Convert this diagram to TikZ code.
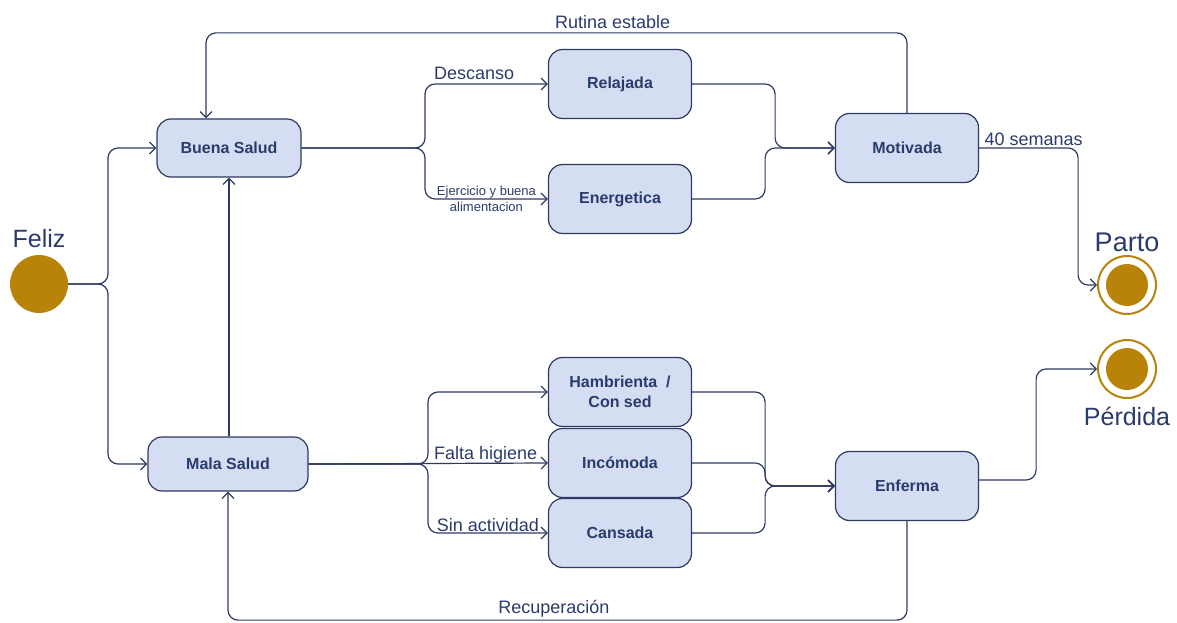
\documentclass[tikz,border=0pt]{standalone}
\usepackage{fontspec}
\setmainfont{Liberation Sans}
\usetikzlibrary{arrows.meta,positioning}
\definecolor{linea}{HTML}{2E3A62}
\definecolor{texto}{HTML}{2B3B6C}
\definecolor{relleno}{HTML}{D4DDF1}
\definecolor{oro}{HTML}{B98309}

\begin{document}
\begin{tikzpicture}[x=1pt,y=-1pt,
    % define styles
    estado/.style={
        draw=linea,
        fill=relleno,
        line width=1.2pt,
        rounded corners=14pt,
        minimum width=143pt,
        minimum height=69pt,
        align=center,
        text=texto,
        font=\fontsize{16}{20}\selectfont\bfseries
    },
    inicio/.style={
        circle,
        fill=oro,
        inner sep=0pt,
        minimum size=58pt
    },
    fin/.style={
        circle,
        draw=oro,
        fill=white,
        line width=2pt,
        inner sep=0pt,
        minimum size=58pt,
        path picture={\fill[oro] (path picture bounding box.center) circle (21pt);}
    },
    flecha/.style={
        draw=linea,
        line width=1.2pt,
        rounded corners=10pt,
        -{Straight Barb[length=6pt,width=12pt]}
    },
    etiqueta/.style={
        text=texto,
        inner sep=1pt,
        font=\fontsize{18}{21}\selectfont
    },
    grande/.style={
        text=texto,
        font=\fontsize{25}{28}\selectfont
    }
]
\useasboundingbox (0,0) rectangle (1177,623);

% Initial and final states
\node[inicio,label={[grande,label distance=4pt]above:Feliz}] (feliz) at (39,284) {};
\node[fin,label={[grande,font=\fontsize{27}{30}\selectfont]above:Parto}] (parto) at (1127,285) {};
\node[fin,label={[grande,label distance=5pt]below:Pérdida}] (perdida) at (1127,369) {};

% States
\node[estado,minimum width=144pt,minimum height=58pt] (buena) at (229,148) {Buena Salud};
\node[estado,minimum width=160pt,minimum height=54pt] (mala) at (228,464) {Mala Salud};
\node[estado] (relajada) at (620,84) {Relajada};
\node[estado] (energetica) at (620,199) {Energetica};
\node[estado] (motivada) at (907,148) {Motivada};
\node[estado] (hambrienta) at (620,392) {Hambrienta~~/\\Con sed};
\node[estado] (incomoda) at (620,463) {Incómoda};
\node[estado] (cansada) at (620,533) {Cansada};
\node[estado] (enferma) at (907,486) {Enferma};

% Branch points
\coordinate (rFeliz) at (108,284);
\coordinate (rBuena) at (425,148);
\coordinate (rMala) at (428,464);

% From Feliz
\draw[flecha] (feliz.east) -- (rFeliz) |- (buena.west);
\draw[flecha] (feliz.east) -- (rFeliz) |- (mala.west);
\draw[flecha] (buena.south |- mala.north) -- (buena.south);

% From Buena Salud
\draw[flecha] (buena.east) -- (rBuena) |- node[etiqueta,pos=0.7,above,yshift=3pt] {Descanso} (relajada.west);
\draw[flecha] (buena.east) -- (rBuena) |- node[pos=0.75,align=center,text=texto,inner sep=0pt,
    font=\fontsize{13}{16}\selectfont] {Ejercicio y buena\\alimentacion} (energetica.west);

% Into Motivada
\draw[flecha] (relajada.east) -- ++(83,0) |- (motivada.west);
\draw[flecha] (energetica.east) -- ++(73,0) |- (motivada.west);

% From Mala Salud
\draw[flecha] (mala.east) -- (rMala) |- (hambrienta.west);
\draw[flecha] (mala.east) -- node[etiqueta,pos=0.74,above,yshift=-2pt] {Falta higiene} (incomoda.west);
\draw[flecha] (mala.east) -- (rMala) |- node[etiqueta,pos=0.75,above] {Sin actividad} (cansada.west);

% Into Enferma
\draw[flecha] (hambrienta.east) -- ++(73,0) |- (enferma.west);
\draw[flecha] (incomoda.east) -- ++(73,0) |- (enferma.west);
\draw[flecha] (cansada.east) -- ++(73,0) |- (enferma.west);

% To the final states
\draw[flecha] (motivada.east) -- node[etiqueta,pos=0,above right,xshift=4pt,yshift=1pt] {40 semanas} ++(99,0) |- (parto.west);
\draw[flecha] ([yshift=6pt]enferma.east) -- ++(57,0) |- (perdida.west);

% Loops back
\draw[flecha] (motivada.north) -- ++(0,-80) -| node[etiqueta,pos=0.21,above,yshift=3pt] {Rutina estable} ([xshift=-23pt]buena.north);
\draw[flecha] (enferma.south) -- ++(0,99) -| node[etiqueta,pos=0.26,above,yshift=1pt] {Recuperación} (mala.south);
\end{tikzpicture}
\end{document}
